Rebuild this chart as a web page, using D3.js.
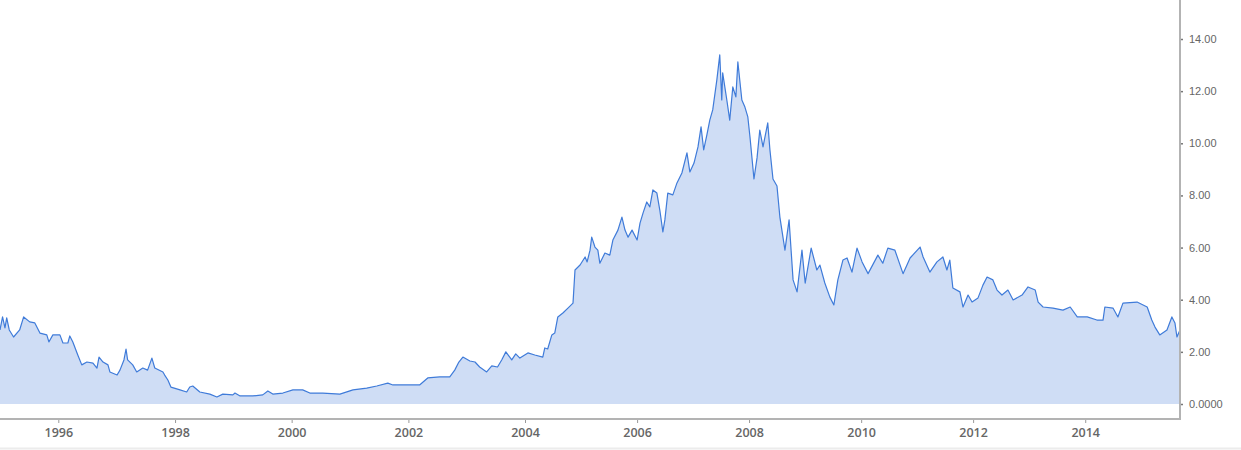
<!DOCTYPE html>
<html>
<head>
<meta charset="utf-8">
<script src="https://cdn.jsdelivr.net/npm/d3@7"></script>
<style>
  html, body { margin: 0; padding: 0; background: #fff; }
  svg { display: block; }
</style>
</head>
<body>
<svg id="chart" width="1241" height="450"></svg>
<script>
// ---- data ----
const dates = [
"1995-01-01","1995-01-17","1995-02-01","1995-02-12","1995-02-28","1995-03-27","1995-05-04","1995-05-29","1995-07-06","1995-08-07",
"1995-09-08","1995-10-21","1995-11-03","1995-11-28","1996-01-11","1996-01-30","1996-03-01","1996-03-13","1996-04-01","1996-05-02",
"1996-05-27","1996-06-28","1996-08-05","1996-08-30","1996-09-12","1996-10-07","1996-11-07","1996-11-19","1997-01-03","1997-01-21",
"1997-02-15","1997-02-28","1997-03-10","1997-04-11","1997-05-06","1997-06-13","1997-07-13","1997-08-09","1997-08-27","1997-10-17",
"1997-10-28","1997-11-17","1997-12-06","1998-02-01","1998-03-15","1998-04-03","1998-04-22","1998-06-05","1998-08-07","1998-09-20",
"1998-10-27","1998-12-29","1999-01-11","1999-02-12","1999-05-02","1999-07-04","1999-08-05","1999-09-05","1999-11-07","2000-01-09",
"2000-03-10","2000-04-24","2000-07-14","2000-10-29","2001-01-19","2001-04-15","2001-06-17","2001-08-25","2001-09-26","2001-11-09",
"2002-03-12","2002-05-02","2002-07-16","2002-09-17","2002-10-18","2002-11-13","2002-12-08","2003-01-21","2003-02-22","2003-03-23",
"2003-05-06","2003-06-07","2003-07-13","2003-08-08","2003-09-03","2003-10-10","2003-11-04","2003-11-30","2004-01-20","2004-03-05",
"2004-04-26","2004-05-09","2004-05-28","2004-06-24","2004-07-13","2004-08-02","2004-09-04","2004-10-07","2004-11-09","2004-11-22",
"2004-12-25","2005-01-27","2005-02-09","2005-02-28","2005-03-11","2005-04-01","2005-04-20","2005-05-03","2005-06-05","2005-07-07",
"2005-07-27","2005-08-29","2005-09-24","2005-10-14","2005-11-03","2005-11-29","2006-01-01","2006-01-20","2006-02-09","2006-03-05",
"2006-03-25","2006-04-14","2006-05-10","2006-05-29","2006-06-18","2006-07-01","2006-07-20","2006-08-22","2006-09-18","2006-10-20",
"2006-11-22","2006-12-11","2007-01-07","2007-02-02","2007-02-22","2007-03-11","2007-04-01","2007-04-20","2007-05-09","2007-06-05",
"2007-06-24","2007-07-07","2007-07-13","2007-08-09","2007-08-28","2007-09-17","2007-10-07","2007-10-20","2007-11-15","2007-12-05",
"2007-12-24","2008-01-07","2008-02-02","2008-02-22","2008-03-11","2008-04-01","2008-05-02","2008-05-16","2008-06-05","2008-07-01",
"2008-07-20","2008-08-22","2008-09-18","2008-10-14","2008-11-09","2008-12-11","2009-01-01","2009-02-09","2009-03-18","2009-04-07",
"2009-05-09","2009-06-11","2009-07-07","2009-08-02","2009-09-04","2009-10-01","2009-11-02","2009-12-05","2010-01-07","2010-02-15",
"2010-04-20","2010-05-22","2010-06-24","2010-08-09","2010-10-01","2010-11-16","2011-01-20","2011-02-09","2011-03-25","2011-05-10",
"2011-06-18","2011-07-14","2011-08-02","2011-08-22","2011-10-07","2011-10-27","2011-11-29","2011-12-25","2012-02-02","2012-03-05",
"2012-04-01","2012-05-09","2012-06-05","2012-07-07","2012-08-15","2012-09-18","2012-11-15","2012-12-24","2013-02-09","2013-02-28",
"2013-04-01","2013-06-05","2013-08-09","2013-09-25","2013-11-10","2014-01-14","2014-03-18","2014-04-27","2014-05-09","2014-07-01",
"2014-08-02","2014-09-04","2014-12-05","2015-02-09","2015-03-11","2015-04-01","2015-05-02","2015-06-18","2015-07-20","2015-08-09",
"2015-08-22","2015-09-11"
];
const values = [
2.84,3.34,2.92,3.30,2.84,2.57,2.84,3.34,3.15,3.11,
2.72,2.65,2.38,2.65,2.65,2.34,2.34,2.61,2.38,1.88,
1.50,1.61,1.57,1.38,1.80,1.61,1.50,1.23,1.11,1.30,
1.69,2.11,1.69,1.50,1.23,1.38,1.30,1.76,1.38,1.23,
1.11,0.92,0.65,0.54,0.46,0.65,0.69,0.46,0.38,0.27,
0.38,0.35,0.42,0.31,0.31,0.35,0.50,0.38,0.42,0.54,
0.54,0.42,0.42,0.38,0.54,0.61,0.69,0.80,0.73,0.73,
0.73,1.00,1.04,1.04,1.30,1.61,1.80,1.65,1.61,1.42,
1.23,1.46,1.42,1.69,2.00,1.69,1.92,1.76,1.96,1.88,
1.80,2.15,2.11,2.65,2.72,3.34,3.49,3.68,3.87,5.14,
5.33,5.64,5.45,5.90,6.40,6.02,5.90,5.40,5.79,5.71,
6.29,6.67,7.17,6.67,6.40,6.67,6.29,6.94,7.33,7.75,
7.56,8.21,8.09,7.44,6.60,7.06,8.09,8.02,8.48,8.86,
9.63,8.90,9.24,9.86,10.63,9.75,10.32,10.89,11.28,12.43,
13.39,11.66,12.70,11.66,10.89,12.16,11.78,13.12,11.66,11.39,
11.01,10.24,8.63,9.44,10.51,9.86,10.78,9.75,8.63,8.36,
7.17,5.90,7.06,4.76,4.30,5.90,4.64,5.98,5.14,5.33,
4.64,4.10,3.80,4.76,5.52,5.60,5.06,5.98,5.45,5.00,
5.71,5.40,5.98,5.90,5.00,5.60,6.02,5.64,5.06,5.45,
5.64,5.14,5.52,4.45,4.30,3.72,4.18,3.91,4.07,4.56,
4.87,4.76,4.37,4.18,4.37,3.99,4.18,4.49,4.37,3.91,
3.72,3.68,3.60,3.72,3.34,3.34,3.22,3.22,3.72,3.68,
3.34,3.87,3.91,3.72,3.22,2.95,2.65,2.84,3.34,3.11,
2.57,2.84
];
const xTickYears = [1996,1998,2000,2002,2004,2006,2008,2010,2012,2014];
const xTickLabels = ["1996","1998","2000","2002","2004","2006","2008","2010","2012","2014"];
const yTickValues = [0,2,4,6,8,10,12,14];
const yTickLabels = ["0.0000","2.00","4.00","6.00","8.00","10.00","12.00","14.00"];

// ---- layout ----
const parse = d3.timeParse("%Y-%m-%d");
const data = dates.map((d, i) => ({ date: parse(d), value: values[i] }));

const plotRight = 1180, axisY = 419;
const x = d3.scaleTime()
  .domain([parse("1995-01-01"), parse("2004-01-01"), parse("2015-09-11")])
  .range([0, 525, plotRight]);
const y = d3.scaleLinear().domain([0, 14]).range([404, 39]);

const svg = d3.select("#chart");

// area + line
svg.append("path")
  .datum(data)
  .attr("fill", "#cfddf5")
  .attr("d", d3.area().x(d => x(d.date)).y0(y(0)).y1(d => y(d.value)));

svg.append("path")
  .datum(data)
  .attr("fill", "none")
  .attr("stroke", "#3f7bd9")
  .attr("stroke-width", 1.2)
  .attr("stroke-linejoin", "round")
  .attr("d", d3.line().x(d => x(d.date)).y(d => y(d.value)));

// x axis
const xAxis = d3.axisBottom(x)
  .tickValues(xTickYears.map(yr => new Date(yr, 0, 1)))
  .tickFormat((d, i) => xTickLabels[i])
  .tickSize(4).tickSizeOuter(0).tickPadding(5);
const gx = svg.append("g").attr("transform", `translate(0,${axisY})`).call(xAxis);
gx.select(".domain").remove();
gx.selectAll(".tick line").attr("stroke", "#999");
gx.selectAll(".tick text")
  .attr("fill", "#666").attr("font-size", "12.5px").attr("font-weight", 600)
  .attr("font-family", "'Open Sans', 'Liberation Sans', Arial, sans-serif");

// y axis (right)
const yAxis = d3.axisRight(y)
  .tickValues(yTickValues)
  .tickFormat((d, i) => yTickLabels[i])
  .tickSize(3).tickSizeOuter(0).tickPadding(6);
const gy = svg.append("g").attr("transform", `translate(${plotRight},0)`).call(yAxis);
gy.select(".domain").remove();
gy.selectAll(".tick line").attr("stroke", "#777").attr("stroke-width", 1.5);
gy.selectAll(".tick text")
  .attr("fill", "#666").attr("font-size", "11px")
  .attr("font-family", "'Liberation Sans', Arial, sans-serif");

// axis lines
svg.append("line")
  .attr("x1", 0).attr("x2", plotRight + 1).attr("y1", axisY).attr("y2", axisY)
  .attr("stroke", "#b3b3b3").attr("stroke-width", 2);
svg.append("line")
  .attr("x1", plotRight).attr("x2", plotRight).attr("y1", 0).attr("y2", axisY + 1)
  .attr("stroke", "#b3b3b3").attr("stroke-width", 2);

// faint bottom border
svg.append("line")
  .attr("x1", 0).attr("x2", 1241).attr("y1", 448.5).attr("y2", 448.5)
  .attr("stroke", "#ececec").attr("stroke-width", 2);
</script>
</body>
</html>
